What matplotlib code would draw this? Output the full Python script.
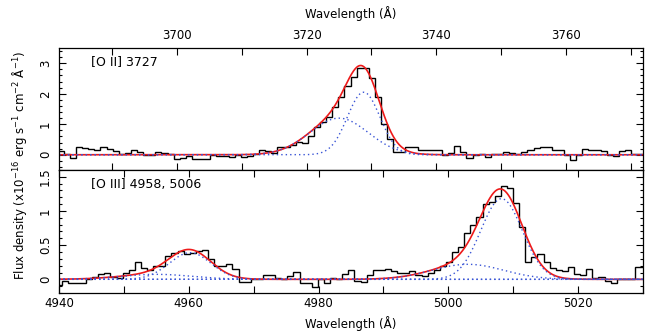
import numpy as np
import matplotlib
matplotlib.use("Agg")
import matplotlib.pyplot as plt
from matplotlib.ticker import MultipleLocator

plt.rcParams['font.family'] = ['DejaVu Sans']

# ---------------- [O II] 3727 spectrum ----------------
oii_start = 3681.66     # left edge of first pixel (Angstrom)
oii_step = 0.94         # pixel width (Angstrom)
oii_flux = [
    0.12, 0.02, -0.10, 0.25, 0.22, 0.18, 0.15, 0.25, 0.20, 0.12,
    0.03, 0.05, 0.14, 0.10, -0.02, 0.00, 0.08, 0.06, 0.03, -0.15,
    -0.10, -0.05, -0.15, -0.15, -0.15, 0.00, -0.05, -0.05, -0.08, 0.00,
    -0.08, -0.05, 0.02, 0.14, 0.12, 0.05, 0.25, 0.25, 0.33, 0.43,
    0.40, 0.63, 0.90, 1.07, 1.23, 1.55, 1.88, 2.26, 2.55, 2.86,
    2.83, 2.51, 1.88, 1.01, 0.52, 0.10, 0.10, 0.25, 0.25, 0.17,
    0.17, 0.17, 0.15, 0.00, 0.05, 0.28, 0.10, -0.10, 0.00, 0.01,
    -0.08, 0.03, 0.01, 0.09, 0.06, 0.04, 0.09, 0.14, 0.22, 0.25,
    0.27, 0.16, 0.14, 0.00, -0.16, 0.00, 0.20, 0.17, 0.14, 0.12,
    -0.02, -0.05, 0.12, 0.14, 0.01, 0.01,
]
# Gaussian fit components: (centre, amplitude, sigma)
oii_components = [
    (3725.0, 1.20, 4.5),   # broad
    (3728.8, 2.05, 2.5),   # narrow
]

# ---------------- [O III] 4958, 5006 spectrum ----------------
oiii_start = 4939.47
oiii_step = 0.94
oiii_flux = [
    -0.09, -0.02, -0.06, -0.06, -0.05, 0.01, 0.04, 0.08, 0.10, 0.04,
    0.02, 0.10, 0.13, 0.26, 0.16, 0.14, 0.19, 0.20, 0.34, 0.39,
    0.41, 0.37, 0.38, 0.42, 0.43, 0.30, 0.20, 0.19, 0.22, 0.15,
    -0.04, -0.04, 0.01, 0.01, 0.06, 0.06, 0.02, 0.00, 0.05, 0.11,
    -0.05, -0.05, -0.11, 0.00, -0.06, 0.02, 0.01, 0.08, 0.13, -0.02,
    -0.04, 0.06, 0.14, 0.14, 0.15, 0.12, 0.09, 0.09, 0.12, 0.07,
    0.05, 0.10, 0.14, 0.20, 0.26, 0.40, 0.47, 0.68, 0.79, 0.91,
    1.10, 1.13, 1.22, 1.37, 1.33, 1.12, 0.76, 0.25, 0.33, 0.37,
    0.25, 0.16, 0.13, 0.12, 0.18, 0.08, 0.06, 0.15, 0.02, 0.03,
    -0.02, -0.06, 0.01, 0.01, 0.01, 0.18, 0.18,
]
oiii_components = [
    (4955.0, 0.073, 5.5),  # broad 4958
    (4960.2, 0.390, 3.2),  # narrow 4958
    (5003.0, 0.220, 5.5),  # broad 5006
    (5008.2, 1.180, 3.2),  # narrow 5006
]

oii_xlim = (3681.85, 3771.85)
oiii_xlim = (4940.0, 5030.0)

RED = '#ee1a1a'
BLUE = '#3a55d6'


def gauss(x, c, a, s):
    return a * np.exp(-0.5 * ((x - c) / s) ** 2)


def draw_panel(ax, start, step, flux, comps, xlim):
    flux = np.asarray(flux)
    edges = start + step * np.arange(len(flux) + 1)
    ax.stairs(flux, edges, color='black', lw=1.0, baseline=None)
    x = np.linspace(xlim[0], xlim[1], 1500)
    total = np.zeros_like(x)
    for c, a, s in comps:
        total += gauss(x, c, a, s)
    ax.plot(x, total, color=RED, lw=1.2)
    for c, a, s in comps:
        ax.plot(x, gauss(x, c, a, s), color=BLUE, lw=1.0,
                linestyle=(0, (1, 2.2)))
    ax.set_xlim(*xlim)
    ax.xaxis.set_major_locator(MultipleLocator(10))
    for sp in ax.spines.values():
        sp.set_linewidth(0.9)
    ax.tick_params(axis='both', which='both', direction='in',
                   top=True, right=True, width=0.8, labelsize=8.5)
    ax.tick_params(which='major', length=5)
    ax.tick_params(which='minor', length=2.5)
    ax.tick_params(axis='y', labelrotation=90, pad=5)
    for lab in ax.get_yticklabels():
        lab.set_va('center')


fig = plt.figure(figsize=(6.56, 3.34), dpi=100)
ax_top = fig.add_axes([59 / 656, 1 - 170 / 334, 584 / 656, 122 / 334])
ax_bot = fig.add_axes([59 / 656, 1 - 293 / 334, 584 / 656, 123 / 334])

draw_panel(ax_top, oii_start, oii_step, oii_flux, oii_components, oii_xlim)
ax_top.set_ylim(-0.5, 3.5)
ax_top.yaxis.set_major_locator(MultipleLocator(1))
ax_top.yaxis.set_minor_locator(MultipleLocator(0.2))
ax_top.xaxis.tick_top()
ax_top.tick_params(axis='x', which='both', bottom=True, top=True,
                   labelbottom=False, labeltop=True, pad=4)
ax_top.set_xticks(np.arange(3690, 3771, 10))
ax_top.set_xticklabels(['' if v % 20 else str(v) for v in range(3690, 3771, 10)])
ax_top.xaxis.set_label_position('top')
ax_top.set_xlabel('Wavelength (Å)', fontsize=8.5, labelpad=8)
ax_top.text(0.055, 0.885, '[O II] 3727', transform=ax_top.transAxes,
            fontsize=9, va='center', ha='left')

draw_panel(ax_bot, oiii_start, oiii_step, oiii_flux, oiii_components, oiii_xlim)
ax_bot.set_ylim(-0.2, 1.6)
ax_bot.yaxis.set_minor_locator(MultipleLocator(0.1))
ax_bot.set_yticks([0, 0.5, 1.0, 1.5])
ax_bot.set_yticklabels(['0', '0.5', '1', '1.5'])
for lab in ax_bot.get_yticklabels():
    lab.set_va('center')
ax_bot.set_xticks(np.arange(4940, 5031, 10))
ax_bot.set_xticklabels(['' if v % 20 else str(v) for v in range(4940, 5031, 10)])
ax_bot.tick_params(axis='x', pad=3)
ax_bot.set_xlabel('Wavelength (Å)', fontsize=8.5, labelpad=4)
ax_bot.text(0.055, 0.88, '[O III] 4958, 5006', transform=ax_bot.transAxes,
            fontsize=9, va='center', ha='left')

fig.text(20 / 656, 1 - 165 / 334,
         r'Flux density (x10$^{-16}$ erg s$^{-1}$ cm$^{-2}$ Å$^{-1}$)',
         rotation=90, ha='center', va='center', fontsize=8.5)

fig.savefig('out.png', dpi=100)
